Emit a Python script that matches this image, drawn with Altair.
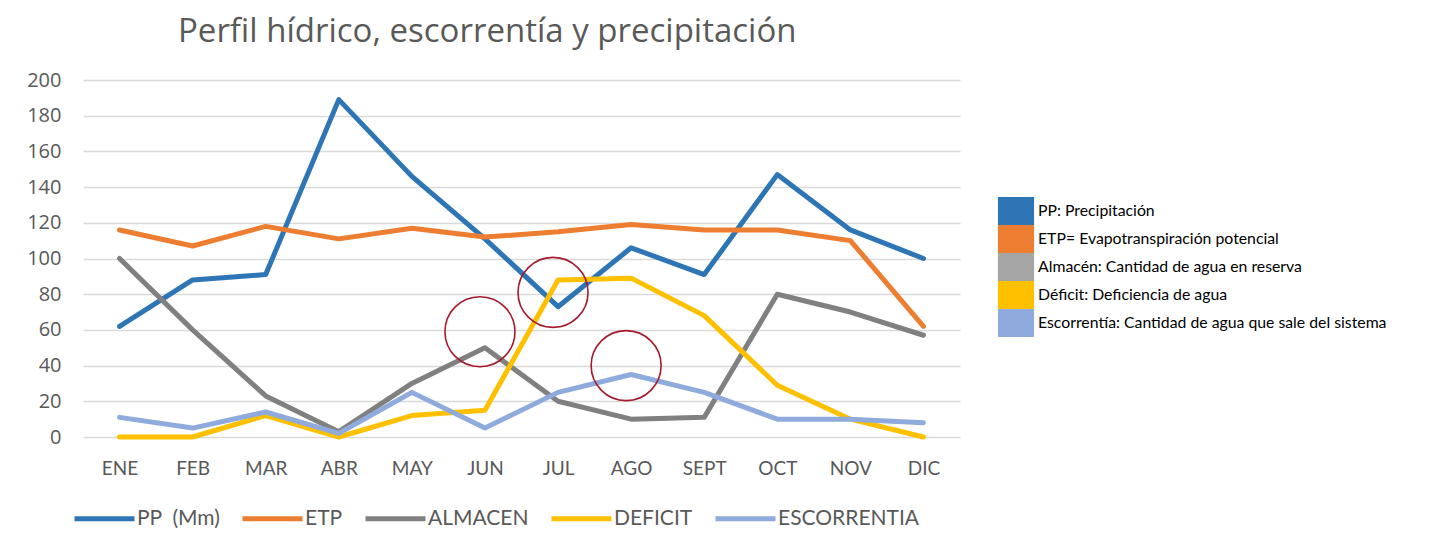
import altair as alt
import pandas as pd

months = ["ENE", "FEB", "MAR", "ABR", "MAY", "JUN", "JUL", "AGO", "SEPT", "OCT", "NOV", "DIC"]
pp = [62, 88, 91, 189, 146, 111, 73, 106, 91, 147, 116, 100]
etp = [116, 107, 118, 111, 117, 112, 115, 119, 116, 116, 110, 62]
almacen = [100, 60, 23, 3, 30, 50, 20, 10, 11, 80, 70, 57]
deficit = [0, 0, 12, 0, 12, 15, 88, 89, 68, 29, 10, 0]
escorrentia = [11, 5, 14, 2, 25, 5, 25, 35, 25, 10, 10, 8]

series_names = ["PP\u00a0 (Mm)", "ETP", "ALMACEN", "DEFICIT", "ESCORRENTIA"]
series_colors = ["#2E75B6", "#ED7D31", "#808080", "#FFC000", "#8FAADC"]
long_names = [
    "PP: Precipitación",
    "ETP= Evapotranspiración potencial",
    "Almacén: Cantidad de agua en reserva",
    "Déficit: Deficiencia de agua",
    "Escorrentía: Cantidad de agua que sale del sistema",
]
long_colors = ["#2E75B6", "#ED7D31", "#A5A5A5", "#FFC000", "#8FAADC"]

y_ticks = list(range(0, 201, 20))

circle_months = ["JUN", "JUL", "AGO"]
circle_values = [59, 81, 40]

rows = []
for name, vals in zip(series_names, [pp, etp, almacen, deficit, escorrentia]):
    for i, (m, v) in enumerate(zip(months, vals)):
        rows.append({"mes": m, "valor": v, "serie": name, "idx": i})
df = pd.DataFrame(rows)

df_leg = pd.DataFrame({"desc": long_names, "mes": months[:5], "valor": [0] * 5})
df_circ = pd.DataFrame({"mes": circle_months, "valor": circle_values})

xenc = alt.X("mes:N", sort=months, scale=alt.Scale(paddingOuter=0.5, paddingInner=0),
             axis=alt.Axis(title=None, labelAngle=0, domain=False, ticks=False,
                           labelPadding=22, labelFontSize=19, labelFont="Lato",
                           labelColor="#595959", grid=False))
yenc = alt.Y("valor:Q", scale=alt.Scale(domain=[0, 200], nice=False),
             axis=alt.Axis(title=None, values=y_ticks, tickCount=11, domain=False, ticks=False,
                           labelOverlap=False,
                           labelPadding=22, labelFontSize=20, labelFont="Open Sans",
                           labelColor="#595959", gridColor="#D9D9D9", gridWidth=1.5))

lines = alt.Chart(df).mark_line(strokeWidth=5, strokeCap="round", strokeJoin="round").encode(
    x=xenc,
    y=yenc,
    color=alt.Color("serie:N", scale=alt.Scale(domain=series_names, range=series_colors),
                    legend=alt.Legend(title=None, orient="none", direction="horizontal",
                                      legendX=-11, legendY=406, symbolType="stroke",
                                      symbolSize=3600, symbolStrokeWidth=5,
                                      labelFontSize=21, labelFont="Lato", labelColor="#595959",
                                      labelOffset=0, columnPadding=12)),
    order=alt.Order("idx:Q"),
)

legend_layer = alt.Chart(df_leg).mark_square(size=0, opacity=0).encode(
    x=xenc,
    y=yenc,
    fill=alt.Fill("desc:N", scale=alt.Scale(domain=long_names, range=long_colors),
                  legend=alt.Legend(title=None, orient="none", direction="vertical",
                                    legendX=919, legendY=117,
                                    symbolType="M-1.29,-1H1.29V1H-1.29Z", symbolSize=784,
                                    symbolOpacity=1, symbolStrokeWidth=0,
                                    rowPadding=0, labelOffset=8, labelFontSize=15.8,
                                    labelFont="Lato", labelColor="#000000",
                                    labelLimit=450)),
)

circles = alt.Chart(df_circ).mark_point(shape="circle", filled=False, size=4900,
                                        stroke="#A31B2C", strokeWidth=1.6, xOffset=-5,
                                        opacity=1).encode(
    x=xenc,
    y=yenc,
)

chart = alt.layer(lines, legend_layer, circles).resolve_scale(color="independent").properties(
    width=877,
    height=357,
    autosize=alt.AutoSizeParams(type="none"),
    padding={"left": 75, "top": 72, "right": 462, "bottom": 93},
    title=alt.TitleParams(text="Perfil hídrico, escorrentía y precipitación", anchor="start",
                          frame="group", dx=95, fontSize=33, font="Open Sans", fontWeight="normal",
                          color="#595959", offset=21),
).configure_view(stroke=None)

chart.save("out.html", embed_options={"renderer": "svg", "actions": False})
